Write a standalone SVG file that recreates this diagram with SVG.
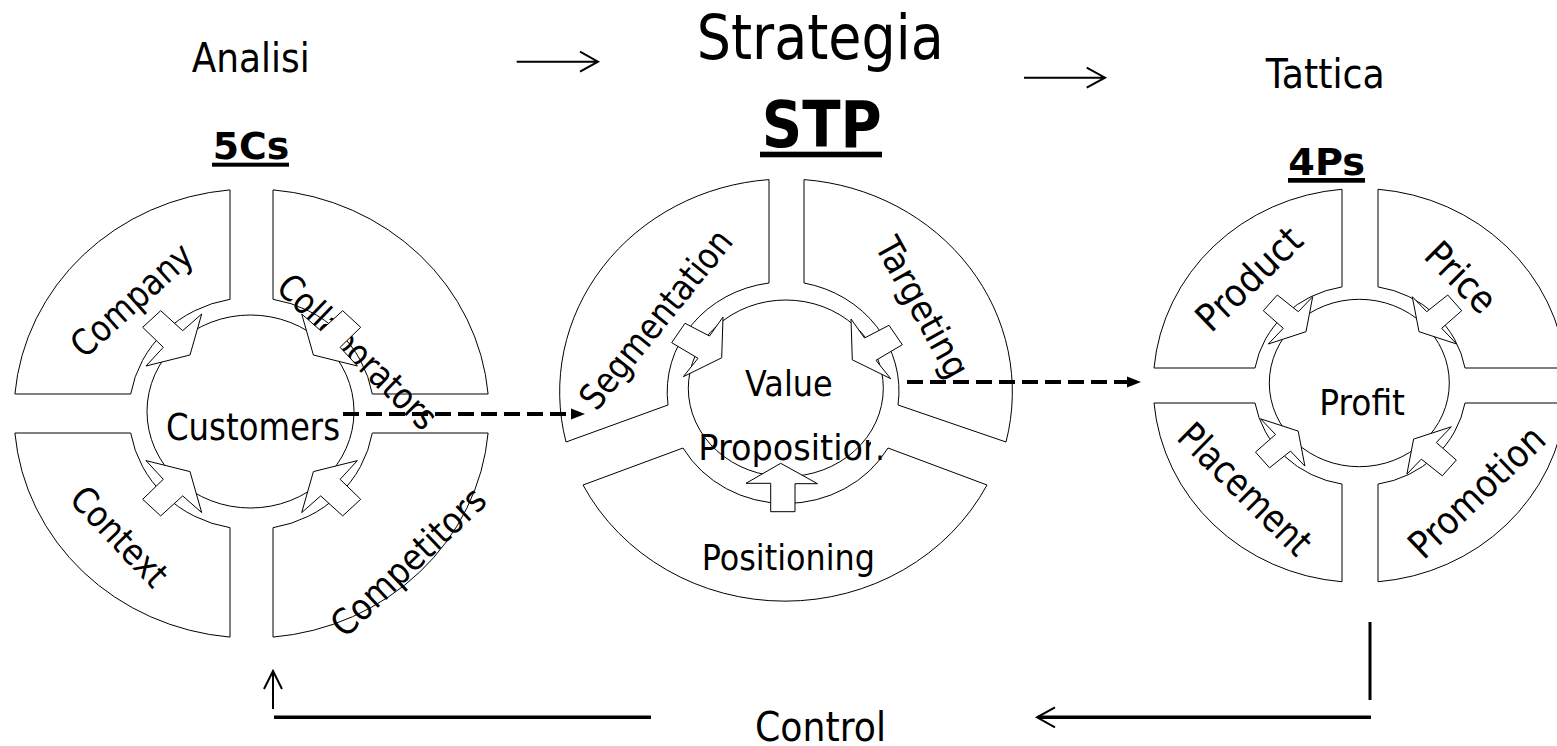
<svg xmlns="http://www.w3.org/2000/svg" width="1557" height="746" viewBox="0 0 1557 746">
<style>
.seg{fill:#fff;stroke:#000;stroke-width:1}
.hub{fill:#fff;stroke:#000;stroke-width:1}
.blk{fill:#fff;stroke:#000;stroke-width:1;stroke-linejoin:miter}
.t{font-family:"DejaVu Sans",Verdana,sans-serif;fill:#000}
.r{font-size:36px}
.b{font-weight:bold}
.dash{fill:none;stroke:#000;stroke-width:4;stroke-dasharray:16 7}
.ln{fill:none;stroke:#000}
</style>
<defs>
<clipPath id="pc" clipPathUnits="userSpaceOnUse">
<rect x="0" y="0" width="871" height="746"/>
<rect x="871" y="455.5" width="120" height="60"/>
</clipPath>
</defs>
<rect width="1557" height="746" fill="#fff"/>

<g id="titles">
<text class="t" x="191.7" y="71.7" font-size="41" textLength="118" lengthAdjust="spacingAndGlyphs">Analisi</text>
<text class="t" x="696.7" y="59.3" font-size="63" textLength="247" lengthAdjust="spacingAndGlyphs">Strategia</text>
<text class="t" x="1265.7" y="87.7" font-size="40" textLength="119" lengthAdjust="spacingAndGlyphs">Tattica</text>
<text class="t b" x="212.7" y="158.5" font-size="37" textLength="76.6" lengthAdjust="spacingAndGlyphs">5Cs</text>
<rect x="212" y="162.7" width="77" height="4"/>
<text class="t b" x="761.7" y="146.7" font-size="64" textLength="120" lengthAdjust="spacingAndGlyphs">STP</text>
<rect x="760" y="151.7" width="122" height="5.6"/>
<text class="t b" x="1288.3" y="175" font-size="37" textLength="76.7" lengthAdjust="spacingAndGlyphs">4Ps</text>
<rect x="1288" y="178" width="77" height="4.7"/>
<text class="t" x="755" y="741" font-size="40" textLength="131" lengthAdjust="spacingAndGlyphs">Control</text>
</g>

<g id="node-5cs">
<path class="seg" d="M230,189.9 A237.5,224.5 0 0 0 14.9,394 L130.7,394 A122.5,116 0 0 1 230,299.3 Z"/>
<path class="seg" d="M273,189.9 A237.5,224.5 0 0 1 488.1,394 L372.3,394 A122.5,116 0 0 0 273,299.3 Z"/>
<path class="seg" d="M14.9,433 A237.5,224.5 0 0 0 230,637.1 L230,527.7 A122.5,116 0 0 1 130.7,433 Z"/>
<path class="seg" d="M273,637.1 A237.5,224.5 0 0 0 488.1,433 L372.3,433 A122.5,116 0 0 1 273,527.7 Z"/>
<ellipse class="hub" cx="250.5" cy="411.5" rx="103.5" ry="96.5"/>
<text class="t" x="253" y="440" font-size="37" text-anchor="middle" textLength="174" lengthAdjust="spacingAndGlyphs">Customers</text>
<text class="t r" text-anchor="middle" dominant-baseline="central" textLength="150" lengthAdjust="spacingAndGlyphs" transform="translate(131.5,300) rotate(-42)">Company</text>
<text class="t r" text-anchor="middle" dominant-baseline="central" textLength="206" lengthAdjust="spacingAndGlyphs" transform="translate(357.5,351.7) rotate(44)">Collaborators</text>
<text class="t r" text-anchor="middle" dominant-baseline="central" textLength="123" lengthAdjust="spacingAndGlyphs" transform="translate(119.5,536.5) rotate(46.5)">Context</text>
<text class="t r" text-anchor="middle" dominant-baseline="central" textLength="198" lengthAdjust="spacingAndGlyphs" transform="translate(408.3,561.7) rotate(-43.5)">Competitors</text>
<polygon class="blk" points="160.7,310.7 182.7,330.7 201.7,314 190,355 146,366 163.3,347.3 142.7,327.3"/>
<polygon class="blk" points="342.7,310.7 320.7,330.7 301.7,314 313.4,355 357.4,366 340.1,347.3 360.7,327.3"/>
<polygon class="blk" points="160.7,515.9 182.7,495.9 201.7,512.6 190,471.6 146,460.6 163.3,479.3 142.7,499.3"/>
<polygon class="blk" points="342.7,515.9 320.7,495.9 301.7,512.6 313.4,471.6 357.4,460.6 340.1,479.3 360.7,499.3"/>
</g>

<g id="node-stp">
<path class="seg" d="M769,179.6 A226.8,213 0 0 0 566,442 L668,405 A118,110 0 0 1 769,283 Z"/>
<path class="seg" d="M804,179.6 A226.8,213 0 0 1 1006,442 L898,405 A118,110 0 0 0 804,283 Z"/>
<path class="seg" d="M583,485 A226.8,213 0 0 0 987,485 L888,448 A118,110 0 0 1 683,448 Z"/>
<ellipse class="hub" cx="785.8" cy="388.3" rx="97.5" ry="88.3"/>
<text class="t" x="745" y="396" font-size="36" textLength="87.7" lengthAdjust="spacingAndGlyphs">Value</text>
<text class="t" x="698.3" y="460" font-size="36" textLength="186" lengthAdjust="spacingAndGlyphs" clip-path="url(#pc)">Proposition</text>
<text class="t" x="701.7" y="570" font-size="35" textLength="173.3" lengthAdjust="spacingAndGlyphs">Positioning</text>
<text class="t r" text-anchor="middle" dominant-baseline="central" textLength="219" lengthAdjust="spacingAndGlyphs" transform="translate(655.8,319.2) rotate(-51)">Segmentation</text>
<text class="t r" text-anchor="middle" dominant-baseline="central" textLength="155" lengthAdjust="spacingAndGlyphs" transform="translate(922.5,307.5) rotate(61)">Targeting</text>
<polygon class="blk" points="685,323.3 709.5,336 723,317 721.7,357.8 683.3,376.7 698,358.3 671.7,342.7"/>
<polygon class="blk" points="889,325.3 864.5,338 851,319 852.3,359.8 890.7,378.7 876,360.3 902.3,344.7"/>
<polygon class="blk" points="770.7,511.7 770.7,483.3 746,483.3 780.7,463.3 817.5,483.7 795,483.7 795,511.7"/>
</g>

<g id="node-4ps">
<path class="seg" d="M1342,189.25 A206.8,197 0 0 0 1154,368 L1255,368 A106.6,100 0 0 1 1342,286.9 Z"/>
<path class="seg" d="M1378,189.25 A206.8,197 0 0 1 1566,368 L1465,368 A106.6,100 0 0 0 1378,286.9 Z"/>
<path class="seg" d="M1154,403 A206.8,197 0 0 0 1342,581.75 L1342,484.1 A106.6,100 0 0 1 1255,403 Z"/>
<path class="seg" d="M1378,581.75 A206.8,197 0 0 0 1566,403 L1465,403 A106.6,100 0 0 1 1378,484.1 Z"/>
<ellipse class="hub" cx="1359.3" cy="383" rx="90" ry="83.7"/>
<text class="t" x="1319.3" y="415" font-size="36" textLength="85.7" lengthAdjust="spacingAndGlyphs">Profit</text>
<text class="t" font-size="38" text-anchor="middle" dominant-baseline="central" textLength="131" lengthAdjust="spacingAndGlyphs" transform="translate(1249.2,279) rotate(-44)">Product</text>
<text class="t" font-size="38" text-anchor="middle" dominant-baseline="central" textLength="83" lengthAdjust="spacingAndGlyphs" transform="translate(1460.8,277.5) rotate(45)">Price</text>
<text class="t" font-size="38" text-anchor="middle" dominant-baseline="central" textLength="170" lengthAdjust="spacingAndGlyphs" transform="translate(1245,489.2) rotate(44.6)">Placement</text>
<text class="t" font-size="38" text-anchor="middle" dominant-baseline="central" textLength="172" lengthAdjust="spacingAndGlyphs" transform="translate(1476.8,492) rotate(-43.7)">Promotion</text>
<polygon class="blk" points="1277.3,295 1298.3,311.7 1312.7,296.7 1306,331.7 1268.3,344 1283.3,328.3 1263.3,310.7"/>
<polygon class="blk" points="1447.7,295 1426.7,311.7 1412.3,296.7 1419,331.7 1456.7,344 1441.7,328.3 1461.7,310.7"/>
<polygon class="blk" points="1269.5,467.8 1290.5,451.1 1304.9,466.1 1298.2,431.1 1260.5,418.8 1275.5,434.5 1255.5,452.1"/>
<polygon class="blk" points="1442.3,475.8 1421.3,459.1 1406.9,474.1 1413.6,439.1 1451.3,426.8 1436.3,442.5 1456.3,460.1"/>
</g>

<g id="connectors">
<path class="ln" stroke-width="2" d="M516.7,61.7 H597 M580,51.7 L598,61.7 L580,71.7"/>
<path class="ln" stroke-width="2" d="M1024,77.7 H1104 M1086.7,67.7 L1105,77.7 L1086.7,87.7"/>
<path class="dash" d="M343,414 H572"/>
<polygon points="571,408.5 585,414 571,419.5"/>
<path class="dash" d="M907,382 H1128"/>
<polygon points="1127,376.5 1141,382 1127,387.5"/>
<path class="ln" stroke-width="3" d="M1370,622 V700"/>
<path class="ln" stroke-width="3.5" d="M1371,717.3 H1038"/>
<path class="ln" stroke-width="2" d="M1055,707.3 L1037,717.3 L1055,727.3"/>
<path class="ln" stroke-width="3.5" d="M651,717.3 H274"/>
<path class="ln" stroke-width="2" d="M273,709 V672 M264,689 L273,671 L282,689"/>
</g>
</svg>
